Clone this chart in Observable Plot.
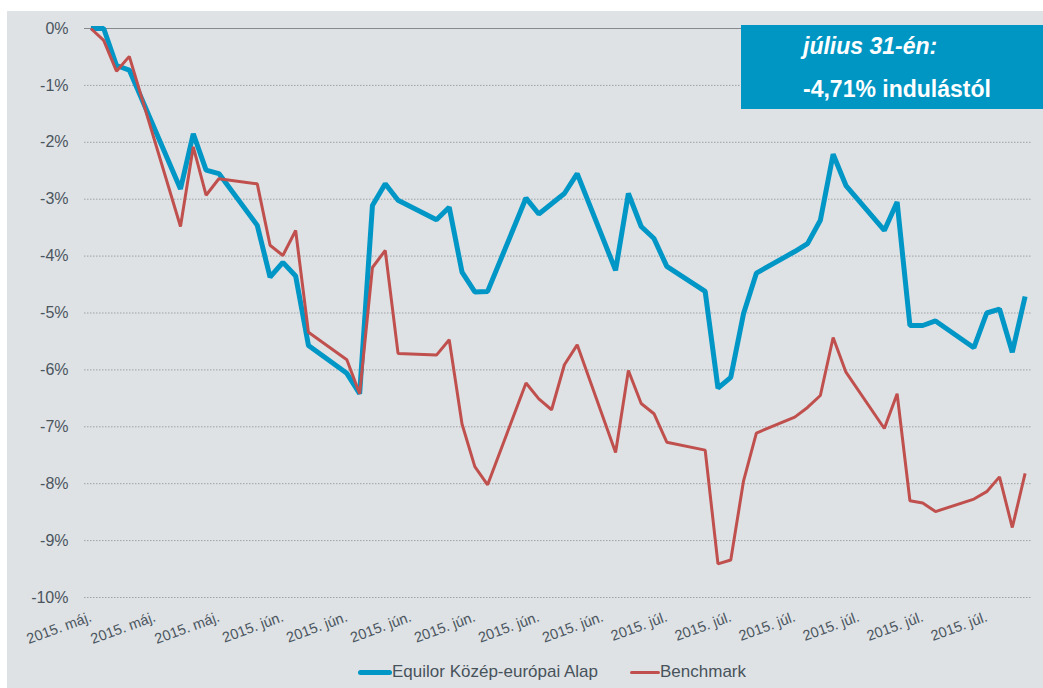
<!DOCTYPE html>
<html>
<head>
<meta charset="utf-8">
<script src="https://cdn.jsdelivr.net/npm/d3@7"></script>
<script src="https://cdn.jsdelivr.net/npm/@observablehq/plot@0.6"></script>
<style>
  html, body { margin: 0; padding: 0; background: #ffffff; }
  #wrap { position: relative; width: 1043px; height: 688px; overflow: hidden; font-family: "Liberation Sans", Arial, sans-serif; }
  #panel { position: absolute; left: 7px; top: 11px; right: 0; bottom: 0; background: #dee2e5; }
  #chart { position: absolute; left: 0; top: 0; }
  #box { position: absolute; left: 741px; top: 25px; width: 302px; height: 84px; background: #0096c4; color: #fff; font-weight: bold; font-size: 23px; }
  #box .l1 { position: absolute; left: 62px; top: 8px; font-style: italic; }
  #box .l2 { position: absolute; left: 62px; top: 51px; }
  #legend { position: absolute; left: 358px; top: 662px; display: flex; align-items: center; font-size: 17px; color: #48525b; }
  #legend .sw { display: inline-block; width: 34px; border-radius: 3px; }
  #legend .item { display: flex; align-items: center; margin-right: 32px; }
</style>
</head>
<body>
<div id="wrap">
  <div id="panel"></div>
  <div id="chart"></div>
  <div id="box"><div class="l1">július 31-én:</div><div class="l2">-4,71% indulástól</div></div>
  <div id="legend"></div>
</div>
<script>
// ---- data ----
const dates = [
  "2015-05-19","2015-05-20","2015-05-21","2015-05-22",
  "2015-05-26","2015-05-27","2015-05-28","2015-05-29",
  "2015-06-01","2015-06-02","2015-06-03","2015-06-04","2015-06-05",
  "2015-06-08","2015-06-09","2015-06-10","2015-06-11","2015-06-12",
  "2015-06-15","2015-06-16","2015-06-17","2015-06-18","2015-06-19",
  "2015-06-22","2015-06-23","2015-06-24","2015-06-25","2015-06-26",
  "2015-06-29","2015-06-30","2015-07-01","2015-07-02","2015-07-03",
  "2015-07-06","2015-07-07","2015-07-08","2015-07-09","2015-07-10",
  "2015-07-13","2015-07-14","2015-07-15","2015-07-16","2015-07-17",
  "2015-07-20","2015-07-21","2015-07-22","2015-07-23","2015-07-24",
  "2015-07-27","2015-07-28","2015-07-29","2015-07-30","2015-07-31"
];
const fundValues = [
  0.00, 0.00, -0.65, -0.73,
  -2.82, -1.85, -2.49, -2.55,
  -3.46, -4.37, -4.11, -4.35, -5.57,
  -6.06, -6.42, -3.11, -2.73, -3.02,
  -3.36, -3.14, -4.28, -4.63, -4.62,
  -2.98, -3.26, -3.08, -2.90, -2.55,
  -4.25, -2.90, -3.48, -3.69, -4.18,
  -4.62, -6.32, -6.13, -5.01, -4.30,
  -3.92, -3.78, -3.37, -2.21, -2.76,
  -3.55, -3.05, -5.22, -5.22, -5.14,
  -5.61, -5.00, -4.93, -5.69, -4.71
];
const benchValues = [
  0.00, -0.21, -0.75, -0.49,
  -3.48, -2.08, -2.93, -2.64,
  -2.73, -3.81, -3.99, -3.55, -5.34,
  -5.82, -6.42, -4.20, -3.90, -5.71,
  -5.74, -5.47, -6.95, -7.70, -8.02,
  -6.23, -6.51, -6.70, -5.91, -5.56,
  -7.45, -6.01, -6.59, -6.77, -7.27,
  -7.41, -9.41, -9.34, -7.95, -7.11,
  -6.83, -6.66, -6.45, -5.43, -6.04,
  -7.03, -6.42, -8.30, -8.34, -8.49,
  -8.27, -8.14, -7.88, -8.77, -7.82
];
const seriesNames = ["Equilor Közép-európai Alap", "Benchmark"];
const seriesColors = ["#0096c6", "#c0504d"];
const yTicks = [0, -1, -2, -3, -4, -5, -6, -7, -8, -9, -10];
const tickDates = [
  "2015-05-19","2015-05-24","2015-05-29","2015-06-03","2015-06-08",
  "2015-06-13","2015-06-18","2015-06-23","2015-06-28","2015-07-03",
  "2015-07-08","2015-07-13","2015-07-18","2015-07-23","2015-07-28"
];
const tickLabels = [
  "2015. máj.","2015. máj.","2015. máj.","2015. jún.","2015. jún.",
  "2015. jún.","2015. jún.","2015. jún.","2015. jún.","2015. júl.",
  "2015. júl.","2015. júl.","2015. júl.","2015. júl.","2015. júl."
];
const xDomain = ["2015-05-18T12:00Z", "2015-07-31T12:00Z"];

// ---- build ----
const parse = s => new Date(s + (s.length === 10 ? "T00:00Z" : ""));
const fundRows = dates.map((d, i) => ({date: parse(d), value: fundValues[i]}));
const benchRows = dates.map((d, i) => ({date: parse(d), value: benchValues[i]}));
const tickDateObjs = tickDates.map(parse);
const labelByTime = new Map(tickDateObjs.map((d, i) => [+d, tickLabels[i]]));

const chart = Plot.plot({
  width: 1043,
  height: 655,
  marginLeft: 84,
  marginRight: 12,
  marginTop: 28,
  marginBottom: 58,
  style: {background: "transparent", fontFamily: "'Liberation Sans', Arial, sans-serif", color: "#4b555e", overflow: "visible"},
  x: {type: "utc", domain: xDomain.map(d => new Date(d))},
  y: {domain: [-10, 0]},
  marks: [
    Plot.ruleY(yTicks.filter(d => d !== 0), {stroke: "#9da2a6", strokeWidth: 1, strokeDasharray: "1.5,1.5"}),
    Plot.ruleY([0], {stroke: "#878a8c", strokeWidth: 1.2}),
    Plot.lineY(fundRows, {x: "date", y: "value", stroke: seriesColors[0], strokeWidth: 5, strokeLinejoin: "miter", strokeLinecap: "butt"}),
    Plot.lineY(benchRows, {x: "date", y: "value", stroke: seriesColors[1], strokeWidth: 3, strokeLinejoin: "miter", strokeLinecap: "butt"}),
    Plot.axisY({ticks: yTicks, tickSize: 0, tickPadding: 16, fontSize: 16, tickFormat: d => d + "%", label: null}),
    Plot.axisX({ticks: tickDateObjs, tickSize: 0, tickPadding: 19, tickRotate: -20, textAnchor: "end", fontSize: 14.5, tickFormat: d => labelByTime.get(+d), label: null})
  ]
});
document.getElementById("chart").appendChild(chart);

// legend
const legend = document.getElementById("legend");
seriesNames.forEach((name, i) => {
  const item = document.createElement("div");
  item.className = "item";
  const sw = document.createElement("span");
  sw.className = "sw";
  sw.style.background = seriesColors[i];
  sw.style.height = i === 0 ? "5px" : "3px";
  if (i === 1) sw.style.width = "30px";
  const t = document.createElement("span");
  t.textContent = name;
  item.appendChild(sw);
  item.appendChild(t);
  legend.appendChild(item);
});
</script>
</body>
</html>
